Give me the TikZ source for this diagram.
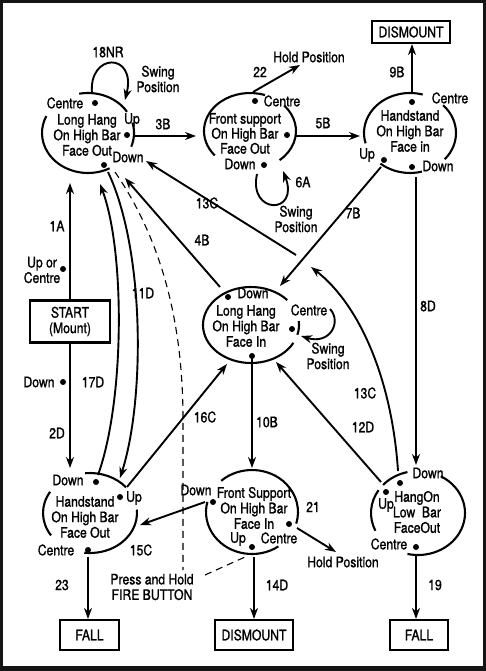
\documentclass[tikz,border=0pt]{standalone}
\usepackage{fontspec}
\setmainfont{TeX Gyre Heros}[FakeStretch=0.84,FakeBold=1.2]
\usetikzlibrary{arrows.meta}
\newcommand\fs{\fontsize{14.5}{15.5}\selectfont}
\newcommand\fsb{\fontsize{14.5}{15}\selectfont}
\newcommand\Earc[6]{\draw[st] (#1,#2) ++(#5:#3 and #4) arc[start angle=#5,end angle=#6,x radius=#3,y radius=#4];}
\tikzset{
  st/.style={line width=2.1pt},
  con/.style={line width=1.9pt,-{Stealth[length=11pt,width=8pt]}},
  dashc/.style={line width=1.1pt,dash pattern=on 7pt off 5pt},
  dot/.style={circle,fill,inner sep=0pt,minimum size=6pt},
  lbl/.style={inner sep=0pt,font=\fs},
  box/.style={draw,line width=2.2pt,inner sep=0pt,font=\fs},
}
\begin{document}
\begin{tikzpicture}[x=1pt,y=-1pt]
\fill[black!92] (0,0) rectangle (486,671);
\fill[white] (3,3) rectangle (483,666);
\useasboundingbox (0,0) rectangle (486,671);

% ---- state ellipses (broken arcs)
\Earc{88}{133}{46}{40}{-101}{-32}
\Earc{88}{133}{46}{40}{-15}{20}
\Earc{88}{133}{46}{40}{62}{205}
\Earc{250}{131}{46}{38}{140}{289}
\Earc{250}{131}{46}{38}{-42}{50}
\Earc{410}{133}{46}{40}{165}{286}
\Earc{410}{133}{46}{40}{-44}{41}
\Earc{410}{133}{46}{40}{75}{130}
\Earc{251}{325}{48}{38}{28}{319}
\Earc{251}{325}{48}{38}{-6}{15}
\Earc{90}{513}{47}{40}{-96}{-40}
\Earc{90}{513}{47}{40}{-5}{97}
\Earc{90}{513}{47}{40}{146}{212}
\Earc{252}{512}{46}{42}{-132}{16}
\Earc{252}{512}{46}{42}{55}{194}
\Earc{418}{513}{47}{42}{-138}{-103}
\Earc{418}{513}{47}{42}{-61}{103}
\Earc{418}{513}{47}{42}{155}{213}

% ---- state texts
\node[lbl] (aCen) at (65,103) {Centre};
\node[dot] (aCd) at (95,103) {};
\node[lbl,align=center] (aTxt) at (87,135) {Long Hang\\On High Bar\\Face Out};
\node[lbl] (aUp) at (132,120) {Up};
\node[dot] (aUd) at (127,135) {};
\node[lbl] (aDn) at (128,157) {Down};
\node[dot] (aDd) at (104,165) {};

\node[lbl] (bCen) at (282,101) {Centre};
\node[dot] (bCd) at (255,101) {};
\node[lbl,align=center,font=\fsb] (bTxt) at (245,133.5) {Front support\\On High Bar\\Face Out};
\node[lbl] (bDn) at (240,164) {Down};
\node[dot] (bDd) at (264,165) {};
\node[dot] (bRd) at (287,135) {};

\node[lbl] (cCen) at (450,98) {Centre};
\node[dot] (cCd) at (412,102) {};
\node[lbl,align=center] (cTxt) at (410,131) {Handstand\\On High Bar\\Face in};
\node[lbl] (cUp) at (367,155) {Up};
\node[dot] (cUd) at (384,160) {};
\node[lbl] (cDn) at (438,166) {Down};
\node[dot] (cDd) at (412,167) {};

\node[lbl] (dDn) at (253,293) {Down};
\node[dot] (dDd) at (228,297) {};
\node[lbl,align=center] (dTxt) at (246,326) {Long Hang\\On High Bar\\Face In};
\node[lbl] (dCen) at (309,310) {Centre};
\node[dot] (dCd) at (292,329) {};
\node[dot] (dBd) at (252,356) {};

\node[lbl] (fDn) at (68,480) {Down};
\node[dot] (fDd) at (96,482) {};
\node[lbl,align=center] (fTxt) at (85,517) {Handstand\\On High Bar\\Face Out};
\node[lbl] (fUp) at (134,498) {Up};
\node[dot] (fUd) at (120,497) {};
\node[lbl] (fCen) at (56,550) {Centre};
\node[dot] (fCd) at (88,550) {};

\node[lbl] (gDn) at (196,490) {Down};
\node[dot] (gDd) at (213,502) {};
\node[lbl,align=center] (gTxt) at (254,508) {Front Support\\On High Bar\\Face In};
\node[lbl] (gUp) at (238,539) {Up};
\node[dot] (gUd) at (252,547) {};
\node[lbl] (gCen) at (279,538) {Centre};
\node[dot] (gCd) at (289,524) {};

\node[lbl] (eDn) at (428,473) {Down};
\node[dot] (eDd) at (400,483) {};
\node[lbl,align=center] (eTxt) at (417,512) {HangOn\\Low\ \ Bar\\FaceOut};
\node[lbl] (eUp) at (386,505) {Up};
\node[dot] (eUd) at (386,492) {};
\node[lbl] (eCen) at (389,544) {Centre};
\node[dot] (eCd) at (416,547) {};

% ---- boxes
\node[box,minimum width=80pt,minimum height=42pt,align=center] (start) at (70,321.5) {START\\(Mount)};
\node[box,minimum width=78pt,minimum height=22pt] (dismT) at (411,32) {DISMOUNT};
\node[box,minimum width=59pt,minimum height=30pt] (fallL) at (89.5,635) {FALL};
\node[box,minimum width=78pt,minimum height=30pt] (dismB) at (254,635) {DISMOUNT};
\node[box,minimum width=58pt,minimum height=30pt] (fallR) at (419,635) {FALL};

% ---- labels
\node[lbl] (l18) at (108,52) {18NR};
\node[lbl,align=center] (swA) at (158,79) {Swing\\Position};
\node[lbl] (l3B) at (163,124) {3B};
\node[lbl] (l22) at (260,72) {22};
\node[lbl] (hpT) at (309,57) {Hold Position};
\node[lbl] (l5B) at (323,123) {5B};
\node[lbl] (l6A) at (303,182) {6A};
\node[lbl,align=center] (swB) at (296,219) {Swing\\Position};
\node[lbl] (l9B) at (397,72) {9B};
\node[lbl] (l13a) at (207,203) {13C};
\node[lbl] (l7B) at (353,213) {7B};
\node[lbl] (l4B) at (202,240) {4B};
\node[lbl] (l1A) at (57,226) {1A};
\node[lbl,align=center] (upc) at (42,270) {Up or\\Centre};
\node[dot] (upcd) at (63,269) {};
\node[lbl] (l11D) at (143,293) {11D};
\node[lbl,align=center] (swD) at (328,356) {Swing\\Position};
\node[lbl] (l8D) at (428,306) {8D};
\node[lbl] (dnS) at (39,382) {Down};
\node[dot] (dnSd) at (63,382) {};
\node[lbl] (l17D) at (93,382) {17D};
\node[lbl] (l13b) at (365,393) {13C};
\node[lbl] (l16C) at (205,417) {16C};
\node[lbl] (l10B) at (267,422) {10B};
\node[lbl] (l12D) at (363,427) {12D};
\node[lbl] (l2D) at (57,433) {2D};
\node[lbl] (l15C) at (141,550) {15C};
\node[lbl] (l21) at (313,507) {21};
\node[lbl] (hpB) at (343,562) {Hold Position};
\node[lbl] (l23) at (62,585) {23};
\node[lbl] (l14D) at (277,585) {14D};
\node[lbl] (l19) at (435,585) {19};
\node[lbl,align=center] (fire) at (152,587) {Press and Hold\\FIRE BUTTON};

% ---- connector end points
\coordinate (p1A) at (70,183);
\coordinate (p2D) at (70,468);
\coordinate (p3Bs) at (135,136); \coordinate (p3Be) at (196,136);
\coordinate (p5Bs) at (295,136); \coordinate (p5Be) at (360,136);
\coordinate (p9Bs) at (412,93);
\coordinate (p22s) at (253,92); \coordinate (p22e) at (300,65);
\coordinate (p7Bs) at (381,167); \coordinate (p7Be) at (280,286);
\coordinate (p4Bs) at (220,287); \coordinate (p4Be) at (125,178);
\coordinate (p13s) at (296,255); \coordinate (p13e) at (146,161);
\coordinate (p13Ls) at (398,471); \coordinate (p13Le) at (311,267);
\coordinate (p8Ds) at (416,177); \coordinate (p8De) at (416,465);
\coordinate (p10s) at (252,358); \coordinate (p10e) at (252,468);
\coordinate (p12s) at (381,482); \coordinate (p12e) at (276,362);
\coordinate (p16s) at (127,487); \coordinate (p16e) at (227,364);
\coordinate (p15s) at (205,502); \coordinate (p15e) at (140,525);
\coordinate (p21s) at (297,528); \coordinate (p21e) at (336,552);
\coordinate (p14s) at (254,557);
\coordinate (p19s) at (416,555);
\coordinate (p23s) at (88,557);
\coordinate (p18s) at (92,94); \coordinate (p18e) at (125,100);
\coordinate (p6s) at (257,174); \coordinate (p6e) at (283,171);
\coordinate (pSDs) at (330,309); \coordinate (pSDe) at (301,336);
\coordinate (p11s) at (108,172); \coordinate (p11e) at (120,478);
\coordinate (p17s) at (98,475); \coordinate (p17e) at (100,184);
\coordinate (pDa) at (115,172); \coordinate (pDb) at (183,570);
\coordinate (pDc) at (205,575); \coordinate (pDd) at (245,557);

% ---- connectors
\draw[con] (start.north) -- (p1A);
\draw[con] (start.south) -- (p2D);
\draw[con] (p3Bs) -- (p3Be);
\draw[con] (p5Bs) -- (p5Be);
\draw[con] (p9Bs) -- (p9Bs |- dismT.south);
\draw[con] (p22s) -- (p22e);
\draw[con] (p7Bs) -- (p7Be);
\draw[con] (p4Bs) -- (p4Be);
\draw[con] (p13s) -- (p13e);
\draw[con] (p13Ls) .. controls (392,380) and (360,305) .. (p13Le);
\draw[con] (p8Ds) -- (p8De);
\draw[con] (p10s) -- (p10e);
\draw[con] (p12s) -- (p12e);
\draw[con] (p16s) -- (p16e);
\draw[con] (p15s) -- (p15e);
\draw[con] (p21s) -- (p21e);
\draw[con] (p14s) -- (dismB.north);
\draw[con] (p19s) -- (p19s |- fallR.north);
\draw[con] (p23s) -- (p23s |- fallL.north);
\draw[con] (p18s) .. controls (88,52) and (137,52) .. (p18e);
\draw[con] (p6s) .. controls (248,215) and (300,215) .. (p6e);
\draw[con] (pSDs) .. controls (342,322) and (330,345) .. (pSDe);
\draw[con] (p11s) .. controls (145,250) and (145,400) .. (p11e);
\draw[con] (p17s) .. controls (125,400) and (125,250) .. (p17e);
\draw[dashc] (pDa) .. controls (165,245) and (183,330) .. (183,420) -- (pDb);
\draw[dashc] (pDc) -- (pDd);
\end{tikzpicture}
\end{document}
